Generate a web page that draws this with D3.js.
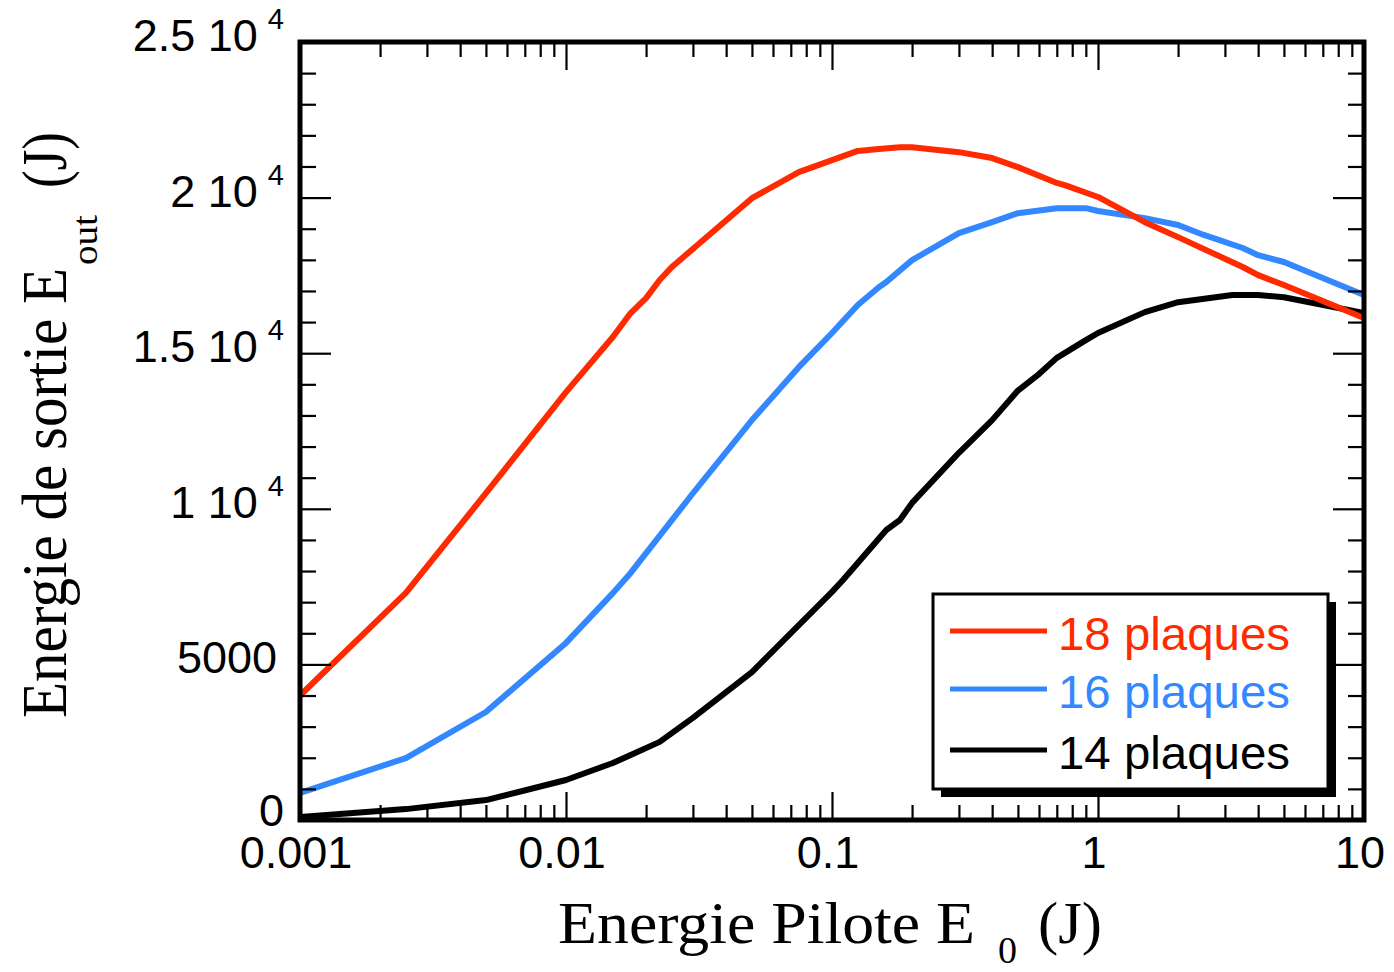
<!DOCTYPE html>
<html>
<head>
<meta charset="utf-8">
<script src="https://cdn.jsdelivr.net/npm/d3@7"></script>
<style>
  body { margin: 0; background: #fff; }
  svg { display: block; }
</style>
</head>
<body>
<svg id="chart" width="1394" height="972"></svg>
<script>
// pilot energy (J) and output energy (J) for each stack
const e0_18 = [0.001, 0.0025, 0.005, 0.01, 0.015, 0.0175, 0.02, 0.0225, 0.025, 0.05, 0.075, 0.125, 0.15, 0.18, 0.2, 0.3, 0.4, 0.5, 0.7, 0.75, 1, 1.5, 2, 3.5, 4, 5, 10];
const eout_18 = [4000, 7300, 10500, 13750, 15520, 16290, 16770, 17350, 17770, 19980, 20820, 21500, 21560, 21620, 21620, 21460, 21270, 20980, 20470, 20400, 20020, 19210, 18730, 17770, 17510, 17190, 16130];

const e0_16 = [0.001, 0.0025, 0.005, 0.01, 0.015, 0.0175, 0.03, 0.05, 0.075, 0.1, 0.125, 0.15, 0.16, 0.2, 0.3, 0.4, 0.5, 0.7, 0.9, 1, 1.5, 2, 2.5, 3.5, 4, 5, 10];
const eout_16 = [870, 1990, 3470, 5690, 7290, 7940, 10500, 12850, 14550, 15650, 16550, 17120, 17290, 17990, 18860, 19210, 19500, 19660, 19660, 19570, 19340, 19120, 18800, 18380, 18150, 17930, 16870];

const e0_14 = [0.001, 0.0025, 0.005, 0.01, 0.015, 0.0175, 0.0225, 0.03, 0.05, 0.1, 0.11, 0.16, 0.18, 0.2, 0.3, 0.4, 0.5, 0.6, 0.7, 0.9, 1, 1.5, 2, 3.2, 4, 5, 10];
const eout_14 = [100, 350, 640, 1285, 1830, 2090, 2510, 3280, 4750, 7330, 7710, 9320, 9640, 10190, 11800, 12850, 13800, 14330, 14850, 15420, 15650, 16320, 16640, 16870, 16870, 16800, 16290];

const seriesNames = ["18 plaques", "16 plaques", "14 plaques"];
const seriesColors = ["#ff2a00", "#3388ff", "#000000"];

const xDecades = [0.001, 0.01, 0.1, 1, 10];
const xTickText = ["0.001", "0.01", "0.1", "1", "10"];
const yTickValues = [0, 5000, 10000, 15000, 20000, 25000];
const yTickText = ["0", "5000", "1 10", "1.5 10", "2 10", "2.5 10"];
const yTickSup = ["", "", "4", "4", "4", "4"];

const svg = d3.select("#chart");
const pLeft = 300, pRight = 1364, pTop = 42, pBottom = 820;

const x = d3.scaleLog().domain([0.001, 10]).range([pLeft, pRight]);
const y = d3.scaleLinear().domain([0, 25000]).range([pBottom, pTop]);

const sans = "'Liberation Sans', Arial, Helvetica, sans-serif";
const serif = "'Liberation Serif', 'Times New Roman', Times, serif";

// curves, clipped to the frame
svg.append("clipPath").attr("id", "plotclip")
  .append("rect").attr("x", pLeft).attr("y", pTop)
  .attr("width", pRight - pLeft).attr("height", pBottom - pTop);

const series = [
  { name: seriesNames[2], color: seriesColors[2], xs: e0_14, ys: eout_14 },
  { name: seriesNames[1], color: seriesColors[1], xs: e0_16, ys: eout_16 },
  { name: seriesNames[0], color: seriesColors[0], xs: e0_18, ys: eout_18 },
];

const line = d3.line().x(d => x(d[0])).y(d => y(d[1]));

svg.append("g").attr("clip-path", "url(#plotclip)")
  .selectAll("path")
  .data(series)
  .enter()
  .append("path")
  .attr("d", d => line(d.xs.map((v, i) => [v, d.ys[i]])))
  .attr("fill", "none")
  .attr("stroke", d => d.color)
  .attr("stroke-width", 6)
  .attr("stroke-linejoin", "round");

// inward ticks on all four sides
const xMinor = x.ticks().filter(t => !xDecades.some(d => Math.abs(d - t) / d < 1e-6));
const yMinor = d3.range(0, 25001, 1000).filter(v => v % 5000 !== 0);

function tickAxis(axisFn, scale, values, size, tx, ty) {
  const g = svg.append("g")
    .attr("transform", `translate(${tx},${ty})`)
    .call(axisFn(scale).tickValues(values).tickSize(size).tickFormat(""));
  g.select(".domain").remove();
  g.selectAll(".tick line").attr("stroke", "#000").attr("stroke-width", 2.2);
}

tickAxis(d3.axisBottom, x, xMinor, -15, 0, pBottom);
tickAxis(d3.axisBottom, x, xDecades, -28, 0, pBottom);
tickAxis(d3.axisTop, x, xMinor, -15, 0, pTop);
tickAxis(d3.axisTop, x, xDecades, -28, 0, pTop);
tickAxis(d3.axisLeft, y, yMinor, -16, pLeft, 0);
tickAxis(d3.axisLeft, y, yTickValues, -31, pLeft, 0);
tickAxis(d3.axisRight, y, yMinor, -16, pRight, 0);
tickAxis(d3.axisRight, y, yTickValues, -31, pRight, 0);

// frame
svg.append("rect")
  .attr("x", pLeft).attr("y", pTop)
  .attr("width", pRight - pLeft).attr("height", pBottom - pTop)
  .attr("fill", "none").attr("stroke", "#000").attr("stroke-width", 5);

// x tick labels
svg.append("g").selectAll("text")
  .data(xDecades)
  .enter()
  .append("text")
  .attr("x", d => x(d) - 4)
  .attr("y", 868)
  .attr("text-anchor", "middle")
  .style("font-family", sans)
  .style("font-size", "45px")
  .text((d, i) => xTickText[i]);

// y tick labels with 10^4 superscripts
const yl = svg.append("g").selectAll("text")
  .data(yTickValues)
  .enter()
  .append("text")
  .attr("x", d => d === 5000 ? 277 : 284)
  .attr("y", d => d === 0 ? y(d) + 6 : y(d) + 9)
  .attr("text-anchor", "end")
  .style("font-family", sans)
  .style("font-size", "45px");
yl.append("tspan").text((d, i) => yTickText[i]);
yl.append("tspan")
  .attr("dx", (d, i) => yTickSup[i] ? 10 : 0)
  .attr("dy", -22)
  .style("font-size", "29px")
  .text((d, i) => yTickSup[i]);

// x axis title
svg.append("text")
  .attr("x", 558).attr("y", 943)
  .attr("textLength", 417).attr("lengthAdjust", "spacingAndGlyphs")
  .style("font-family", serif).style("font-size", "60px")
  .text("Energie Pilote E");
svg.append("text")
  .attr("x", 998).attr("y", 963)
  .style("font-family", serif).style("font-size", "38px")
  .text("0");
svg.append("text")
  .attr("x", 1038).attr("y", 943)
  .attr("textLength", 64).attr("lengthAdjust", "spacingAndGlyphs")
  .style("font-family", serif).style("font-size", "60px")
  .text("(J)");

// y axis title
svg.append("text")
  .attr("transform", "translate(66,718) rotate(-90)")
  .attr("textLength", 450).attr("lengthAdjust", "spacingAndGlyphs")
  .style("font-family", serif).style("font-size", "64px")
  .text("Energie de sortie E");
svg.append("text")
  .attr("transform", "translate(97,265) rotate(-90)")
  .attr("textLength", 50).attr("lengthAdjust", "spacingAndGlyphs")
  .style("font-family", serif).style("font-size", "36px")
  .text("out");
svg.append("text")
  .attr("transform", "translate(66,188) rotate(-90)")
  .attr("textLength", 56).attr("lengthAdjust", "spacingAndGlyphs")
  .style("font-family", serif).style("font-size", "64px")
  .text("(J)");

// legend box with drop shadow
const lg = svg.append("g");
lg.append("rect")
  .attr("x", 941).attr("y", 602).attr("width", 395).attr("height", 195)
  .attr("fill", "#000");
lg.append("rect")
  .attr("x", 933).attr("y", 594).attr("width", 395).attr("height", 195)
  .attr("fill", "#fff").attr("stroke", "#000").attr("stroke-width", 3);

const legendRows = [631, 689, 750];
const items = lg.selectAll("g.item")
  .data(seriesNames)
  .enter()
  .append("g")
  .attr("class", "item");
items.append("line")
  .attr("x1", 950).attr("x2", 1047)
  .attr("y1", (d, i) => legendRows[i]).attr("y2", (d, i) => legendRows[i])
  .attr("stroke", (d, i) => seriesColors[i])
  .attr("stroke-width", 5);
items.append("text")
  .attr("x", 1058)
  .attr("y", (d, i) => legendRows[i] + 19)
  .attr("fill", (d, i) => seriesColors[i])
  .attr("textLength", 232).attr("lengthAdjust", "spacingAndGlyphs")
  .style("font-family", sans)
  .style("font-size", "46px")
  .text(d => d);
</script>
</body>
</html>
